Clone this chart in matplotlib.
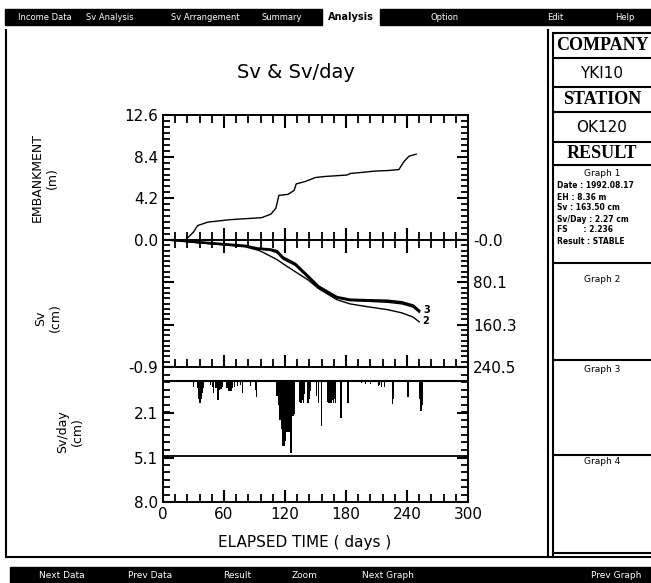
import numpy as np
import matplotlib
matplotlib.use('Agg')
import matplotlib.pyplot as plt
from matplotlib.patches import Rectangle
from matplotlib.lines import Line2D

W, H = 651, 583

# embankment height (m)
emb_days = [22, 30, 34, 44, 66, 97, 106, 111, 114, 123, 129, 131, 140, 150, 159,
            181, 184, 209, 221, 232, 237, 242, 249]
emb_h = [0.0, 0.8, 1.45, 1.8, 2.05, 2.25, 2.6, 3.2, 4.5, 4.6, 5.0, 5.65, 5.9, 6.3,
         6.4, 6.55, 6.7, 6.95, 7.0, 7.1, 7.9, 8.45, 8.65]

# settlement (cm)
sv1_days = [9, 34, 81, 93, 106, 112, 118, 130, 143, 153, 171, 184, 200, 221, 235, 246, 252]
sv1 = [0, 4, 11, 16, 18, 21, 33, 45, 69, 88, 108, 113, 114, 115, 118, 124, 134]
sv3_days = [9, 34, 81, 93, 106, 112, 118, 130, 143, 153, 171, 184, 200, 221, 235, 246, 252]
sv3 = [0, 5, 12, 17, 20, 24, 36, 48, 72, 91, 110, 115, 116, 118, 121, 127, 137]
sv2_days = [9, 34, 81, 93, 97, 112, 122, 143, 153, 171, 184, 200, 221, 235, 246, 252]
sv2 = [0, 5, 13, 19, 22, 37, 50, 76, 92, 113, 121, 126, 132, 138, 146, 155]

# settlement rate (cm/day)
rate_days = [30, 34, 35, 36, 37, 38, 39, 40, 47, 49, 50, 52, 54, 55, 57, 58,
             63, 65, 66, 67, 68, 70, 73, 76, 78, 86, 91, 92,
             112, 113, 114, 115, 116, 117, 118, 119, 120, 121, 122, 123, 124, 125, 126, 128, 129,
             134, 135, 136, 137, 138, 139, 142, 143, 144, 145, 151, 153, 156,
             162, 163, 164, 165, 166, 167, 168, 169, 170, 175, 182,
             195, 199, 204, 212, 213, 215, 218, 226, 227, 241, 252, 253, 254, 255]
rate = [0.45, 0.5, 1.2, 1.45, 1.45, 1.2, 0.8, 0.5, 0.3, 0.4, 0.8, 0.5, 1.25, 0.6, 0.55, 0.4,
        0.5, 0.7, 0.6, 0.65, 0.5, 0.4, 0.35, 0.3, 0.8, 0.35, 0.6, 1.1,
        1.0, 1.0, 1.6, 2.6, 2.5, 3.2, 4.3, 4.3, 4.0, 3.4, 3.4, 3.2, 3.4, 3.0, 4.8, 2.3, 2.2,
        1.4, 1.45, 1.45, 1.3, 1.45, 0.9, 1.45, 1.45, 1.2, 0.7, 1.0, 1.45, 3.0,
        1.4, 1.45, 1.45, 1.45, 1.45, 1.3, 1.45, 1.2, 1.45, 2.45, 1.45,
        0.15, 0.25, 0.25, 0.35, 0.3, 0.4, 0.45, 1.55, 1.2, 1.1, 1.2, 2.0, 2.0, 1.6]
rate_limit = 5.0

emb_ticks = [0.0, 4.2, 8.4, 12.6]
sv_ticks = [0.0, 80.1, 160.3, 240.5]
sv_ticklabels = ['-0.0', '80.1', '160.3', '240.5']
rate_ticks = [-0.9, 2.1, 5.1, 8.0]
day_ticks = [0, 60, 120, 180, 240, 300]

menu_items = [('Income Data', 45), ('Sv Analysis', 110), ('Sv Arrangement', 205),
              ('Summary', 282), ('Option', 445), ('Edit', 555), ('Help', 625)]
bottom_items = [('Next Data', 62), ('Prev Data', 150), ('Result', 237), ('Zoom', 305),
                ('Next Graph', 388), ('Prev Graph', 616)]
info_lines = ['Date : 1992.08.17', 'EH : 8.36 m', 'Sv : 163.50 cm',
              'Sv/Day : 2.27 cm', 'FS      : 2.236', 'Result : STABLE']

fig = plt.figure(figsize=(W / 100, H / 100), dpi=100)


def fx(x):
    return x / W


def fy(y):
    return 1 - y / H


def rect(x0, y0, x1, y1, **kw):
    fig.add_artist(Rectangle((fx(x0), fy(y1)), fx(x1) - fx(x0), fy(y0) - fy(y1),
                             transform=fig.transFigure, **kw))


def line(xs, ys, lw=1.2):
    fig.add_artist(Line2D([fx(v) for v in xs], [fy(v) for v in ys],
                          transform=fig.transFigure, color='k', lw=lw))


def panel(y0, y1):
    return fig.add_axes([fx(163), fy(y1), fx(468) - fx(163), fy(y0) - fy(y1)])


# ---- screen furniture ----
rect(5, 9, 322, 25, color='k')
rect(380, 9, 651, 25, color='k')
for t, x in menu_items:
    fig.text(fx(x), fy(17), t, color='w', fontsize=6, ha='center', va='center')
fig.text(fx(351), fy(17), 'Analysis', color='k', fontsize=7, fontweight='bold',
         ha='center', va='center')

rect(10, 567, 651, 583, color='k')
for t, x in bottom_items:
    fig.text(fx(x), fy(576), t, color='w', fontsize=6.5, ha='center', va='center')

line([6, 6], [30, 557], lw=1.5)
line([6, 651], [557, 557], lw=1.5)
line([548, 548], [30, 557], lw=1.5)
line([553, 553], [33, 555], lw=1.5)
for y in [33, 58, 87, 112, 142, 165, 263, 360, 455, 553]:
    line([553, 651], [y, y], lw=1.5)

for t, y in [('COMPANY', 45), ('STATION', 100), ('RESULT', 154)]:
    fig.text(fx(602), fy(y), t, fontsize=13, fontweight='bold', family='Liberation Serif',
             ha='center', va='center')
for t, y in [('YKI10', 73), ('OK120', 127)]:
    fig.text(fx(602), fy(y), t, fontsize=11, ha='center', va='center')
fig.text(fx(602), fy(174), 'Graph 1', fontsize=6.5, ha='center', va='center')
for i, t in enumerate(info_lines):
    fig.text(fx(557), fy(186 + i * 11), t, fontsize=5.5, fontweight='bold',
             ha='left', va='center')
for t, y in [('Graph 2', 279), ('Graph 3', 370), ('Graph 4', 462)]:
    fig.text(fx(602), fy(y), t, fontsize=6.5, ha='center', va='center')

fig.text(fx(296), fy(73), 'Sv & Sv/day', fontsize=14, ha='center', va='center')
fig.text(fx(305), fy(543), 'ELAPSED TIME ( days )', fontsize=11, ha='center', va='center')
fig.text(fx(45), fy(178), 'EMBANKMENT\n(m)', fontsize=9, rotation=90,
         ha='center', va='center', multialignment='center')
fig.text(fx(48), fy(318), 'Sv\n(cm)', fontsize=9, rotation=90,
         ha='center', va='center', multialignment='center')
fig.text(fx(70), fy(432), 'Sv/day\n(cm)', fontsize=9, rotation=90,
         ha='center', va='center', multialignment='center')

# ---- plots ----
ax1 = panel(115, 240)
ax2 = panel(240, 367)
ax3 = panel(367, 502)

xminor = np.arange(0, 301, 12)
for ax in (ax1, ax2, ax3):
    ax.set_xlim(0, 300)
    ax.set_xticks([60, 120, 180, 240])
    ax.set_xticks(xminor, minor=True)
    for s in ax.spines.values():
        s.set_linewidth(1.4)
    ax.tick_params(which='major', labelsize=11, width=1.5, color='k')
    ax.tick_params(which='minor', width=1.3, color='k')

# embankment
ax1.plot(emb_days, emb_h, color='k', lw=1.0)
ax1.set_ylim(0, 12.6)
ax1.set_yticks(emb_ticks)
ax1.set_yticklabels(['%.1f' % v for v in emb_ticks])
ax1.set_yticks(np.linspace(0, 12.6, 22), minor=True)
ax1.xaxis.tick_top()
ax1.tick_params(axis='x', which='both', top=True, bottom=False, labeltop=False,
                direction='in')
ax1.tick_params(axis='x', which='major', length=9)
ax1.tick_params(axis='x', which='minor', length=6)
ax1.tick_params(axis='y', which='both', left=True, right=True, direction='in')
ax1.tick_params(axis='y', which='major', length=8)
ax1.tick_params(axis='y', which='minor', length=5)

# settlement
ax2.plot(sv1_days, sv1, color='k', lw=1.8)
ax2.plot(sv3_days, sv3, color='k', lw=1.0)
ax2.plot(sv2_days, sv2, color='k', lw=1.0)
ax2.text(256, 133, '3', fontsize=7, fontweight='bold', ha='left', va='center')
ax2.text(255, 154, '2', fontsize=7, fontweight='bold', ha='left', va='center')
ax2.set_ylim(240.5, 0)
ax2.set_yticks(sv_ticks)
ax2.set_yticklabels(sv_ticklabels)
ax2.set_yticks(np.linspace(0, 240.5, 25), minor=True)
ax2.tick_params(axis='x', which='both', top=True, bottom=True, labelbottom=False,
                direction='inout')
ax2.tick_params(axis='x', which='major', length=18)
ax2.tick_params(axis='x', which='minor', length=11)
ax2.tick_params(axis='y', which='both', left=True, right=True, labelleft=False,
                labelright=True, direction='in')
ax2.tick_params(axis='y', which='major', length=8)
ax2.tick_params(axis='y', which='minor', length=5)

# settlement rate
ax3.bar(rate_days, rate, width=1.3, color='k', align='center')
ax3.axhline(0, color='k', lw=1.5)
ax3.axhline(rate_limit, color='k', lw=1.3)
ax3.set_ylim(8.0, -0.9)
ax3.set_yticks(rate_ticks)
ax3.set_yticklabels(['%.1f' % v for v in rate_ticks])
ax3.set_yticks(np.linspace(-0.9, 8.0, 19), minor=True)
ax3.set_xticks(day_ticks)
ax3.set_xticks(xminor, minor=True)
ax3.tick_params(axis='x', which='both', top=False, bottom=True, direction='in')
ax3.tick_params(axis='x', which='major', length=9)
ax3.tick_params(axis='x', which='minor', length=6)
ax3.tick_params(axis='y', which='both', left=True, right=True, direction='in')
ax3.tick_params(axis='y', which='major', length=8)
ax3.tick_params(axis='y', which='minor', length=5)

fig.savefig('out.png', dpi=100)
